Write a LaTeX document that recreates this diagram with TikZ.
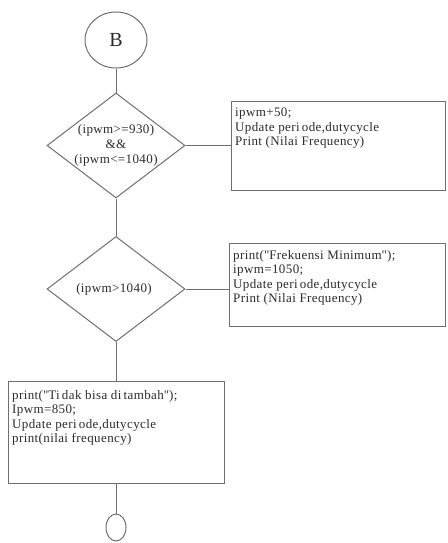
\documentclass[tikz,border=0pt]{standalone}
\usepackage{fontspec}
\setmainfont{Liberation Serif}[LetterSpace=3]
\usetikzlibrary{shapes.geometric}
\definecolor{linegray}{HTML}{6E6E6E}
\definecolor{inkgray}{HTML}{2A2A2A}
\newcommand{\dq}{\textquotedbl}
\begin{document}
\begin{tikzpicture}[x=1pt,y=-1pt,
  every node/.style={text=inkgray},
  conn/.style={draw=linegray, line width=1pt},
  terminal/.style={draw=linegray, line width=1pt, ellipse, inner sep=0pt},
  decision/.style={draw=linegray, line width=1pt, diamond, minimum width=138pt,
    minimum height=105pt, inner sep=0pt},
  procbox/.style={draw=linegray, line width=1pt, rectangle, anchor=north west, inner sep=0pt},
  boxtext/.style={anchor=north west, align=left, inner sep=0pt,
    font=\fontsize{13}{14.5}\selectfont},
  condtext/.style={align=center, inner sep=0pt, font=\fontsize{13}{15}\selectfont},
]
\useasboundingbox (0,0) rectangle (447,543);

% connector B and the two decisions
\node[terminal, minimum width=62pt, minimum height=56pt,
  font=\fontsize{20}{22}\selectfont] (start) at (116,40) {B};
\node[decision] (d1) at (116,145.5) {};
\node[condtext] (d1t) at (116,145) {(ipwm>=930)\\\&\&\\(ipwm<=1040)};
\node[decision] (d2) at (116,289) {};
\node[condtext] (d2t) at (114,289) {(ipwm>1040)};

% process boxes (text placed by the top of its first line)
\node[procbox, minimum width=214pt, minimum height=89pt] (b1) at (231,101) {};
\node[boxtext] (b1t) at (235,108) {ipwm+50;\\Update peri\,ode,dutycycle\\Print (Nilai Frequency)};
\node[procbox, minimum width=216pt, minimum height=83pt] (b2) at (229,243) {};
\node[boxtext] (b2t) at (233,250) {print(\dq Frekuensi Minimum\dq);\\ipwm=1050;\\Update peri\,ode,dutycycle\\Print (Nilai Frequency)};
\node[procbox, minimum width=216pt, minimum height=102pt] (b3) at (8,381) {};
\node[boxtext] (b3t) at (12,390) {print(\dq Ti\,dak bisa di\,tambah\dq);\\Ipwm=850;\\Update peri\,ode,dutycycle\\print(nilai frequency)};

% end connector
\node[terminal, minimum width=20pt, minimum height=27pt] (stop) at (116,527.5) {};

% flow lines
\draw[conn] (start.south) -- (d1.north);
\draw[conn] (d1.east) -- (b1.west |- d1.east);
\draw[conn] (d1.south) -- (d2.north);
\draw[conn] (d2.east) -- (b2.west |- d2.east);
\draw[conn] (d2.south) -- (b3.north -| d2.south);
\draw[conn] (b3.south -| stop.north) -- (stop.north);
\end{tikzpicture}
\end{document}
